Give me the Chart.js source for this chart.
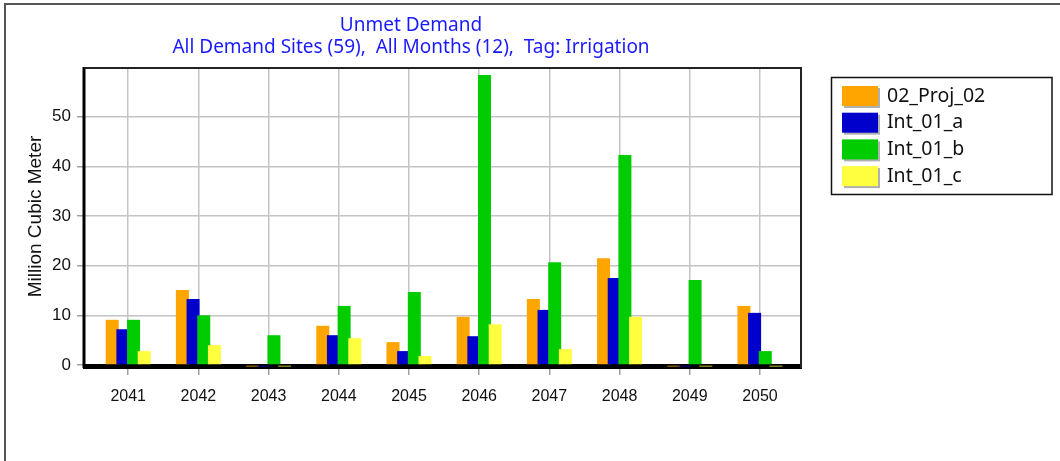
<!DOCTYPE html>
<html>
<head>
<meta charset="utf-8">
<script src="https://cdn.jsdelivr.net/npm/chart.js@4"></script>
<style>
  html, body { margin: 0; padding: 0; background: #fff; }
  #wrap { width: 1060px; height: 461px; position: relative; }
</style>
</head>
<body>
<div id="wrap"><canvas id="unmetChart"></canvas></div>
<script>
// years on the x axis
const years = [2041, 2042, 2043, 2044, 2045, 2046, 2047, 2048, 2049, 2050];
const yTicks = [0, 10, 20, 30, 40, 50];

// unmet demand, million cubic meter
const proj02 = [9.1, 15.1, -0.3, 7.9, 4.6, 9.7, 13.3, 21.5, -0.3, 11.9];
const int01a = [7.2, 13.3, -0.3, 6.0, 2.8, 5.8, 11.1, 17.5, -0.3, 10.5];
const int01b = [9.1, 10.0, 6.0, 11.9, 14.7, 58.4, 20.7, 42.3, 17.1, 2.8];
const int01c = [2.8, 4.0, -0.3, 5.4, 1.8, 8.2, 3.2, 9.7, -0.3, -0.3];

const seriesNames = ['02_Proj_02', 'Int_01_a', 'Int_01_b', 'Int_01_c'];
const seriesColors = ['#ffa500', '#0000cc', '#00cc00', '#ffff40'];
const seriesData = [proj02, int01a, int01b, int01c];

const titleLines = ['Unmet Demand', 'All Demand Sites (59),  All Months (12),  Tag: Irrigation'];

const datasets = seriesData.map((vals, i) => ({
  label: seriesNames[i],
  data: vals.map((v, k) => ({ x: years[k], y: v })),
  backgroundColor: seriesColors[i],
  borderWidth: 0,
  categoryPercentage: 0.608,
  barPercentage: 1.22
}));

// outer frame, title, plot frame and legend box
const decor = {
  id: 'decor',
  beforeDatasetsDraw(chart) {
    const { ctx, chartArea: a } = chart;
    ctx.save();
    // bottom axis band
    ctx.fillStyle = '#000';
    ctx.fillRect(a.left - 1, a.bottom - 1, a.right - a.left + 2, 5);
    // left axis
    ctx.fillRect(a.left - 1.5, a.top - 1, 3, a.bottom - a.top + 4);
    // top & right edge
    ctx.strokeStyle = '#222';
    ctx.lineWidth = 2;
    ctx.beginPath();
    ctx.moveTo(a.left, a.top);
    ctx.lineTo(a.right, a.top);
    ctx.lineTo(a.right, a.bottom + 3);
    ctx.stroke();
    ctx.restore();

    // bars: later series painted over earlier ones
    chart.getSortedVisibleDatasetMetas().forEach(meta => meta.controller.draw());
    return false;
  },
  afterDraw(chart) {
    const { ctx } = chart;
    ctx.save();
    // outer border
    ctx.strokeStyle = '#555';
    ctx.lineWidth = 2;
    ctx.beginPath();
    ctx.moveTo(5, 461);
    ctx.lineTo(5, 4);
    ctx.lineTo(1060, 4);
    ctx.stroke();

    // title
    ctx.fillStyle = '#1a1aff';
    ctx.font = '19px "Noto Sans"';
    ctx.textAlign = 'center';
    ctx.textBaseline = 'middle';
    ctx.fillText(titleLines[0], 411, 26);
    ctx.fillText(titleLines[1], 411, 48);

    // legend
    ctx.strokeStyle = '#111';
    ctx.lineWidth = 1.5;
    ctx.strokeRect(831.5, 77.5, 220.5, 117);
    ctx.font = '19.5px "Noto Sans"';
    ctx.textAlign = 'left';
    seriesNames.forEach((name, i) => {
      const y = 86 + i * 26.7;
      ctx.fillStyle = '#b0b0b0';
      ctx.fillRect(844, y + 2, 36, 20);
      ctx.fillStyle = seriesColors[i];
      ctx.fillRect(842, y, 36, 20);
      ctx.fillStyle = '#111';
      ctx.fillText(name, 887, y + 10);
    });
    ctx.restore();
  }
};

new Chart(document.getElementById('unmetChart'), {
  type: 'bar',
  data: { datasets },
  options: {
    responsive: true,
    maintainAspectRatio: false,
    animation: false,
    layout: { padding: { left: 4, top: 68, right: 259, bottom: 56 } },
    plugins: {
      legend: { display: false },
      title: { display: false },
      tooltip: { enabled: false }
    },
    scales: {
      x: {
        type: 'linear',
        min: 2040.37,
        max: 2050.585,
        offset: false,
        afterBuildTicks: scale => { scale.ticks = years.map(v => ({ value: v })); },
        afterFit: scale => { scale.height = 40; },
        border: { display: false },
        grid: { offset: false, color: '#c4c4c4', lineWidth: 1.5, tickLength: 10, tickColor: '#a0a0a0' },
        ticks: {
          color: '#111',
          padding: 12,
          maxRotation: 0,
          font: { family: '"Liberation Sans"', size: 16 },
          callback: v => String(v)
        }
      },
      y: {
        min: 0,
        max: 59.8,
        afterBuildTicks: scale => { scale.ticks = yTicks.map(v => ({ value: v })); },
        afterFit: scale => { scale.width = 80; },
        border: { display: false },
        grid: { color: '#c4c4c4', lineWidth: 1.5, tickLength: 7, tickColor: '#a0a0a0' },
        ticks: {
          color: '#111',
          padding: 6,
          font: { family: '"Liberation Sans"', size: 17 }
        },
        title: {
          display: true,
          text: 'Million Cubic Meter',
          color: '#111',
          padding: { top: 20, bottom: 0 },
          font: { family: '"Liberation Sans"', size: 19 }
        }
      }
    }
  },
  plugins: [decor]
});
</script>
</body>
</html>
